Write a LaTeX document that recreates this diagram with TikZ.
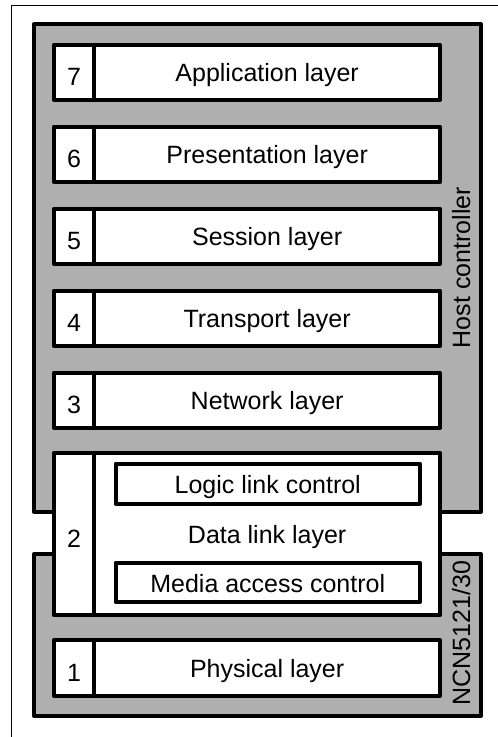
\documentclass[tikz,border=0pt]{standalone}
\usepackage{fontspec}
\setmainfont{Liberation Sans}
\definecolor{ctrlgray}{RGB}{175,175,175}
\begin{document}
\begin{tikzpicture}[x=1pt,y=-1pt,
  every node/.style={inner sep=0pt,outer sep=0pt},
  txt/.style={font=\fontsize{25}{30}\selectfont,anchor=base},
  ctrl/.style={draw,line width=4pt,fill=ctrlgray,line join=round},
  cell/.style={draw,line width=4pt,fill=white,line join=round},
  numcell/.style={cell,minimum width=40.3pt},
  namecell/.style={cell,minimum width=345.7pt},
  sidelabel/.style={txt,rotate=90}]
\useasboundingbox (0,0) rectangle (498,737);
% outer frame (top and left edges)
\draw[line width=1pt] (11,737) -- (11,5) -- (498,5);
% controller blocks
\draw[ctrl] (34,24) rectangle (481,511.7);
\draw[ctrl] (34,554) rectangle (481,716);
\node[sidelabel] (host) at (470,267.5) {Host controller};
\node[sidelabel] (ncn) at (470,633) {NCN5121/30};
% layers 7..3
\foreach \n/\name/\yc in {7/Application layer/72.25,6/Presentation layer/154.25,5/Session layer/236.25,4/Transport layer/318.25,3/Network layer/400.25}{
  \node[numcell,minimum height=55.5pt] (num\n) at (74.15,\yc) {};
  \node[namecell,minimum height=55.5pt] (lay\n) at (267.15,\yc) {};
  \node[txt] (numt\n) at ([yshift=-13pt]num\n.center) {\n};
  \node[txt] (layt\n) at ([yshift=-9pt]lay\n.center) {\name};
}
% layer 2
\node[numcell,minimum height=162.6pt] (num2) at (74.15,534) {};
\node[namecell,minimum height=162.6pt] (lay2) at (267.15,534) {};
\node[txt] (numt2) at ([yshift=-13pt]num2.center) {2};
\node[txt] (layt2) at ([yshift=-9pt]lay2.center) {Data link layer};
\node[cell,minimum width=304.5pt,minimum height=40pt] (llc) at (267.75,483.7) {};
\node[txt] (llct) at ([yshift=-10pt]llc.center) {Logic link control};
\node[cell,minimum width=304.5pt,minimum height=39.2pt] (mac) at (267.75,582.4) {};
\node[txt] (mact) at ([yshift=-10.5pt]mac.center) {Media access control};
% layer 1
\node[numcell,minimum height=56pt] (num1) at (74.15,668) {};
\node[namecell,minimum height=56pt] (lay1) at (267.15,668) {};
\node[txt] (numt1) at ([yshift=-13pt]num1.center) {1};
\node[txt] (layt1) at ([yshift=-9pt]lay1.center) {Physical layer};
\end{tikzpicture}
\end{document}
